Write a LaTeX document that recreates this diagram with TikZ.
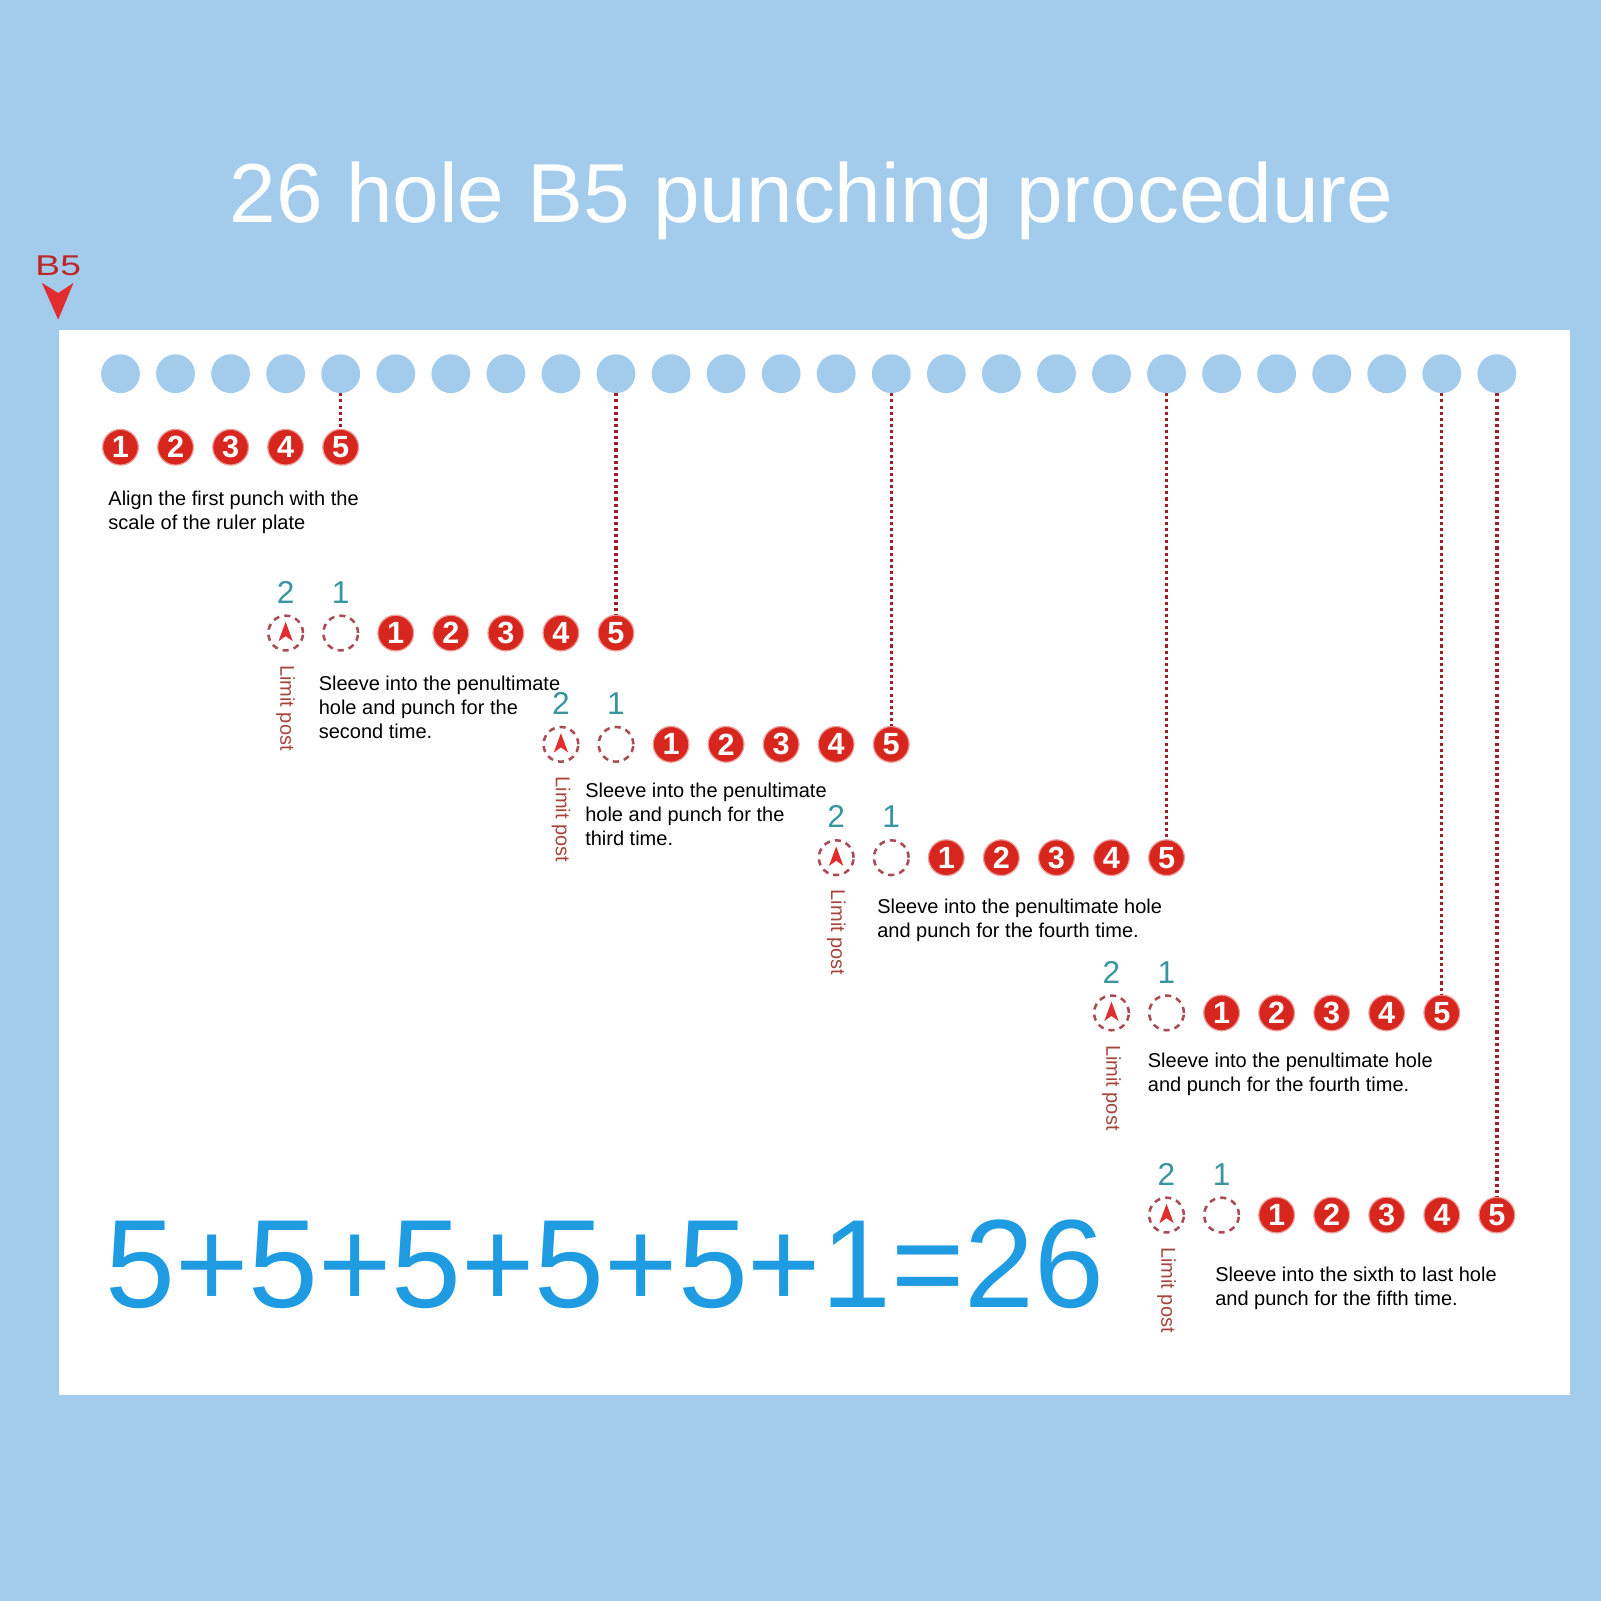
\documentclass[tikz,border=0pt]{standalone}
\usepackage{fontspec}
\setmainfont{Liberation Sans}
\usetikzlibrary{positioning}

\definecolor{bgblue}{RGB}{163,203,236}
\definecolor{punchred}{RGB}{214,38,30}
\definecolor{ringred}{RGB}{170,75,85}
\definecolor{dotred}{RGB}{160,30,40}
\definecolor{tealnum}{RGB}{56,150,160}
\definecolor{postred}{RGB}{165,70,60}
\definecolor{sumblue}{RGB}{30,155,225}
\definecolor{markred}{RGB}{225,45,45}

\begin{document}
\begin{tikzpicture}[x=1pt, y=-1pt,
    hole/.style={circle, fill=bgblue, minimum size=38pt, inner sep=0pt},
    punch/.style={circle, fill=punchred, draw=punchred!45!white, line width=1.2pt,
        minimum size=35pt, inner sep=0pt, text=white,
        font=\fontsize{30}{30}\selectfont\bfseries},
    ring/.style={circle, draw=ringred, line width=2.5pt, dash pattern=on 6pt off 5pt,
        minimum size=34pt, inner sep=0pt},
    stepnum/.style={text=tealnum, font=\fontsize{31}{31}\selectfont, inner sep=0pt, anchor=base},
    posttext/.style={text=postred, font=\fontsize{19.6}{24}\selectfont, rotate=-90,
        inner sep=0pt, anchor=west},
    note/.style={font=\fontsize{19.6}{23.5}\selectfont, align=left, inner sep=0pt, anchor=base west},
    dotline/.style={dotred, line width=3.2pt, dash pattern=on 3pt off 3pt}]

    \useasboundingbox (0,0) rectangle (1568,1568);
    \fill[bgblue] (0,0) rectangle (1568,1568);
    \fill[white] (58,323) rectangle (1538,1366);

    \node[text=white, font=\fontsize{82}{82}\selectfont, anchor=base] (title) at (795,218)
        {26 hole B5 punching procedure};

    % B5 mark
    \node[text=markred!85!black, font=\fontsize{28}{28}\selectfont, inner sep=0pt, anchor=base] (b5) at (57,270)
        {\scalebox{1.3}[1]{B5}};
    \fill[markred] (41,277) -- (57,287) -- (72,277) -- (57,313) -- cycle;

    % 26 holes
    \foreach \i in {0,...,25}
        \node[hole] (h\i) at (118+53.92*\i, 366) {};

    % first punch
    \foreach \k in {1,...,5} {
        \pgfmathtruncatemacro{\j}{\k-1}
        \node[punch] (a\k) at (h\j |- 0,438) {\k};
    }

    % following punches
    \foreach \row/\first/\y in {b/5/620, c/10/729, d/15/840, e/20/992, f/21/1190} {
        \pgfmathtruncatemacro{\post}{\first-2}
        \pgfmathtruncatemacro{\free}{\first-1}
        \node[ring] (p\row) at (h\post |- 0,\y) {};
        \node[ring] (r\row) at (h\free |- 0,\y) {};
        \fill[markred] ([shift={(0,-11)}]p\row.center) -- ([shift={(7,8)}]p\row.center)
            -- ([shift={(0,3)}]p\row.center) -- ([shift={(-7,8)}]p\row.center) -- cycle;
        \node[stepnum] (two\row) at ([yshift=11pt]p\row.north) {2};
        \node[stepnum] (one\row) at ([yshift=11pt]r\row.north) {1};
        \node[posttext] (lim\row) at ([yshift=-13pt]p\row.south) {Limit post};
        \foreach \k in {1,...,5} {
            \pgfmathtruncatemacro{\j}{\first+\k-1}
            \node[punch] (\row\k) at (h\j |- 0,\y) {\k};
        }
    }

    \foreach \a/\b in {4/a5, 9/b5, 14/c5, 19/d5, 24/e5, 25/f5}
        \draw[dotline] (h\a) -- (\b);

    \node[note] (ta) at (106,519) {Align the first punch with the\\scale of the ruler plate};
    \node[note] (tb) at (312,723) {Sleeve into the penultimate\\hole and punch for the\\second time.};
    \node[note] (tc) at (573,828) {Sleeve into the penultimate\\hole and punch for the\\third time.};
    \node[note] (td) at (859,918) {Sleeve into the penultimate hole\\and punch for the fourth time.};
    \node[note] (te) at (1124,1069) {Sleeve into the penultimate hole\\and punch for the fourth time.};
    \node[note] (tf) at (1190,1279) {Sleeve into the sixth to last hole\\and punch for the fifth time.};

    \node[text=sumblue, font=\fontsize{123}{123}\selectfont, inner sep=0pt, anchor=base west] (sum) at (103,1281)
        {5+5+5+5+5+1=26};
\end{tikzpicture}
\end{document}
